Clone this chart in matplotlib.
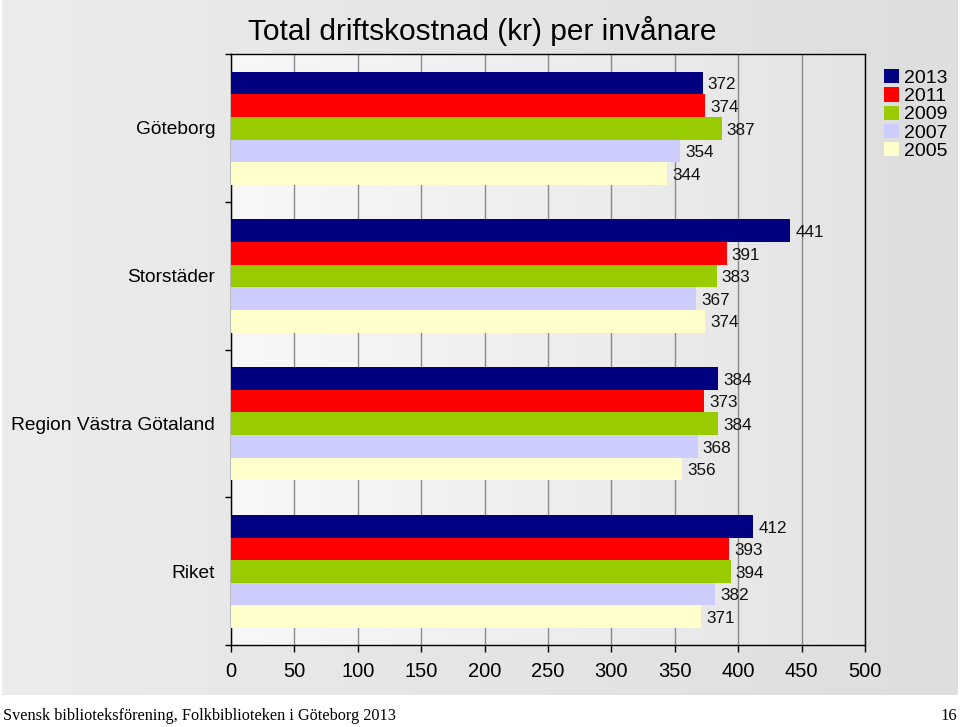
import numpy as np
import matplotlib.pyplot as plt
from matplotlib.colors import LinearSegmentedColormap

categories = ['Göteborg', 'Storstäder', 'Region Västra Götaland', 'Riket']
years = ['2013', '2011', '2009', '2007', '2005']
values_2013 = [372, 441, 384, 412]
values_2011 = [374, 391, 373, 393]
values_2009 = [387, 383, 384, 394]
values_2007 = [354, 367, 368, 382]
values_2005 = [344, 374, 356, 371]
colors = ['#000080', '#ff0000', '#99cc00', '#ccccff', '#ffffcc']
xticks = [0, 50, 100, 150, 200, 250, 300, 350, 400, 450, 500]

series = [values_2013, values_2011, values_2009, values_2007, values_2005]

plt.rcParams['font.family'] = ['Liberation Sans', 'DejaVu Sans']

W, H = 960, 727
fig = plt.figure(figsize=(W / 100, H / 100), dpi=100)
fig.patch.set_facecolor('white')

# grey gradient panel behind the chart
bg = fig.add_axes([2 / W, (H - 695) / H, 956 / W, 695 / H], zorder=-2)
grad = np.linspace(0, 1, 256).reshape(1, -1)
bg_cmap = LinearSegmentedColormap.from_list('bg', ['#ececec', '#dedede'])
bg.imshow(grad, aspect='auto', cmap=bg_cmap, extent=(0, 1, 0, 1))
bg.set_axis_off()

ax = fig.add_axes([231 / W, (H - 645) / H, (865 - 231) / W, (645 - 54) / H])
ax.set_facecolor('none')
pa_cmap = LinearSegmentedColormap.from_list('pa', ['#f8f8f8', '#e4e4e4'])
ax.imshow(grad, aspect='auto', cmap=pa_cmap, extent=(0, 1, 0, 1),
          transform=ax.transAxes, zorder=0)

bar_h = 0.153
start = 0.12
for i, (vals, c) in enumerate(zip(series, colors)):
    ys = [k + start + bar_h * (i + 0.5) for k in range(len(categories))]
    ax.barh(ys, vals, height=bar_h, color=c, edgecolor='none', zorder=3,
            label=years[i])
    for y, v in zip(ys, vals):
        ax.text(v + 4, y + 0.012, str(v), va='center', ha='left',
                fontsize=12.3, color='#111111', zorder=4)

ax.set_xlim(0, 500)
ax.set_ylim(len(categories), 0)
ax.set_xticks(xticks)
ax.set_xticklabels([str(t) for t in xticks], fontsize=14.5)
ax.tick_params(axis='x', direction='out', length=5, pad=7, width=1)
ax.set_yticks(range(len(categories) + 1))
ax.set_yticklabels([])
ax.tick_params(axis='y', which='major', direction='out', length=4, width=1)
ax.set_yticks([k + 0.5 for k in range(len(categories))], minor=True)
ax.set_yticklabels(categories, minor=True, fontsize=13.8)
ax.tick_params(axis='y', which='minor', length=0, pad=11.5)
ax.grid(axis='x', color='#8a8a8a', linewidth=1, zorder=1)
ax.set_axisbelow(True)
for s in ax.spines.values():
    s.set_color('black')
    s.set_linewidth(1)

fig.text(482 / W, 1 - 31 / H, 'Total driftskostnad (kr) per invånare',
         ha='center', va='center', fontsize=21.5)

leg = fig.legend(loc='upper left', bbox_to_anchor=(884 / W, 1 - 69 / H),
                 frameon=False, fontsize=14, handlelength=0.75,
                 handleheight=0.75, handletextpad=0.3, labelspacing=0.02,
                 borderaxespad=0, borderpad=0)

fig.text(3 / W, 1 - 716 / H,
         'Svensk biblioteksförening, Folkbiblioteken i Göteborg 2013',
         ha='left', va='center', fontsize=11.7,
         family=['Liberation Serif', 'DejaVu Serif'])
fig.text(957 / W, 1 - 716 / H, '16', ha='right', va='center', fontsize=12,
         family=['Liberation Serif', 'DejaVu Serif'])

fig.savefig('out.png', dpi=100)
